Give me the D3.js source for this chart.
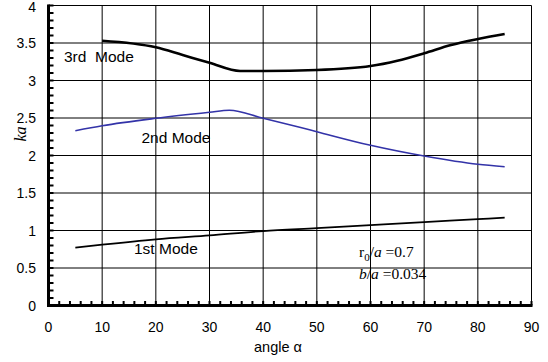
<!DOCTYPE html>
<html>
<head>
<meta charset="utf-8">
<script src="https://cdn.jsdelivr.net/npm/d3@7"></script>
<style>
  body { margin: 0; background: #fff; }
  svg { display: block; }
</style>
</head>
<body>
<div id="chart"></div>
<script>
// ---------------------------------- DATA ---------------------------------- //

let mode1_angle = [5, 10, 20, 30, 40, 50, 60, 70, 80, 85];
let mode1_ka = [0.771, 0.811, 0.883, 0.936, 0.993, 1.032, 1.072, 1.112, 1.151, 1.171];

let mode2_angle = [5, 10, 20, 30, 33.7, 40, 46.8, 50, 60, 70, 80, 85];
let mode2_ka = [2.331, 2.397, 2.496, 2.576, 2.603, 2.496, 2.376, 2.317, 2.136, 1.993, 1.883, 1.851];

let mode3_angle = [10, 20, 25, 30, 35.7, 40, 50, 60, 65, 70, 75, 80, 85];
let mode3_ka = [3.531, 3.443, 3.34, 3.237, 3.127, 3.127, 3.14, 3.193, 3.264, 3.363, 3.473, 3.553, 3.62];

let x_ticks = [0, 10, 20, 30, 40, 50, 60, 70, 80, 90];
let y_ticks = [0, 0.5, 1, 1.5, 2, 2.5, 3, 3.5, 4];

// ---------------------------------- SETTINGS ---------------------------------- //

let img_width = 548;
let img_height = 362;
let label_font = 'Liberation Sans, Arial, sans-serif';
let serif_font = 'Liberation Serif, Times New Roman, serif';

// ---------------------------------- CORE IMAGE ---------------------------------- //

let svg = d3.select('#chart')
  .append('svg')
  .attr('width', img_width)
  .attr('height', img_height);

let x = d3.scaleLinear().domain([0, 90]).range([48.5, 531.5]);
let y = d3.scaleLinear().domain([0, 4]).range([305.5, 5.5]);

// grid
let g_grid = svg.append('g');
g_grid.selectAll('line.v')
  .data(x_ticks.slice(1))
  .enter()
  .append('line')
  .attr('x1', d => x(d)).attr('x2', d => x(d))
  .attr('y1', y(0)).attr('y2', y(4))
  .attr('stroke', '#000')
  .attr('stroke-width', 1);
g_grid.selectAll('line.h')
  .data(y_ticks.slice(1))
  .enter()
  .append('line')
  .attr('x1', x(0)).attr('x2', x(90))
  .attr('y1', d => y(d)).attr('y2', d => y(d))
  .attr('stroke', '#000')
  .attr('stroke-width', 1);

// minor ticks (pointing inward)
let y_minor = d3.range(0, 41).map(i => i / 10);
let x_minor = d3.range(0, 46).map(i => i * 2);

svg.append('g')
  .selectAll('line')
  .data(y_minor)
  .enter()
  .append('line')
  .attr('x1', x(0)).attr('x2', x(0) + 5)
  .attr('y1', d => y(d)).attr('y2', d => y(d))
  .attr('stroke', '#000')
  .attr('stroke-width', 2);

svg.append('g')
  .selectAll('line')
  .data(x_minor)
  .enter()
  .append('line')
  .attr('x1', d => x(d)).attr('x2', d => x(d))
  .attr('y1', y(0)).attr('y2', y(0) - 4.5)
  .attr('stroke', '#000')
  .attr('stroke-width', 2);

// axis lines
svg.append('line')
  .attr('x1', x(0)).attr('x2', x(0))
  .attr('y1', y(4) - 1).attr('y2', y(0) + 1.5)
  .attr('stroke', '#000')
  .attr('stroke-width', 3);
svg.append('line')
  .attr('x1', x(0) - 1.5).attr('x2', x(90) + 1)
  .attr('y1', y(0)).attr('y2', y(0))
  .attr('stroke', '#000')
  .attr('stroke-width', 3);

// tick labels
svg.append('g')
  .selectAll('text')
  .data(y_ticks)
  .enter()
  .append('text')
  .attr('x', 36)
  .attr('y', d => Math.max(y(d) + 5, 11.5))
  .attr('text-anchor', 'end')
  .attr('font-family', label_font)
  .attr('font-size', '14px')
  .text(d => d);

svg.append('g')
  .selectAll('text')
  .data(x_ticks)
  .enter()
  .append('text')
  .attr('x', d => x(d))
  .attr('y', 331.5)
  .attr('text-anchor', 'middle')
  .attr('font-family', label_font)
  .attr('font-size', '14px')
  .text(d => d);

// axis titles
svg.append('text')
  .attr('x', 254)
  .attr('y', 351.5)
  .attr('font-family', label_font)
  .attr('font-size', '14.5px')
  .text('angle α');

svg.append('text')
  .attr('transform', `translate(26,134) rotate(-90)`)
  .attr('text-anchor', 'middle')
  .attr('font-family', serif_font)
  .attr('font-style', 'italic')
  .attr('font-size', '16px')
  .text('ka');

// ---------------------------------- CURVES ---------------------------------- //

let line = d3.line()
  .x(d => x(d[0]))
  .y(d => y(d[1]))
  .curve(d3.curveMonotoneX);

function drawMode(angles, values, color, width) {
  svg.append('path')
    .datum(d3.zip(angles, values))
    .attr('d', line)
    .attr('fill', 'none')
    .attr('stroke', color)
    .attr('stroke-width', width)
    .attr('stroke-linejoin', 'round');
}

drawMode(mode1_angle, mode1_ka, '#000', 1.8);
drawMode(mode2_angle, mode2_ka, '#3333a8', 1.6);
drawMode(mode3_angle, mode3_ka, '#000', 2.6);

// ---------------------------------- LABELS ---------------------------------- //

function modeLabel(px, py, txt) {
  svg.append('text')
    .attr('x', px)
    .attr('y', py)
    .attr('font-family', label_font)
    .attr('font-size', '15.5px')
    .attr('xml:space', 'preserve')
    .style('white-space', 'pre')
    .text(txt);
}

modeLabel(64, 61.7, '3rd  Mode');
modeLabel(141.5, 143.3, '2nd Mode');
modeLabel(134, 254.3, '1st Mode');

let r_label = svg.append('text')
  .attr('x', 359)
  .attr('y', 256.7)
  .attr('font-family', serif_font)
  .attr('font-size', '15.5px');
r_label.append('tspan').text('r');
r_label.append('tspan').attr('font-size', '11px').attr('dy', 4).text('0');
r_label.append('tspan').attr('dy', -4).text('/');
r_label.append('tspan').attr('font-style', 'italic').text('a');
r_label.append('tspan').text(' =0.7');

let b_label = svg.append('text')
  .attr('x', 359)
  .attr('y', 279)
  .attr('font-family', serif_font)
  .attr('font-size', '15.5px');
b_label.append('tspan').attr('font-style', 'italic').text('b');
b_label.append('tspan').text('/');
b_label.append('tspan').attr('font-style', 'italic').text('a');
b_label.append('tspan').text(' =0.034');
</script>
</body>
</html>
